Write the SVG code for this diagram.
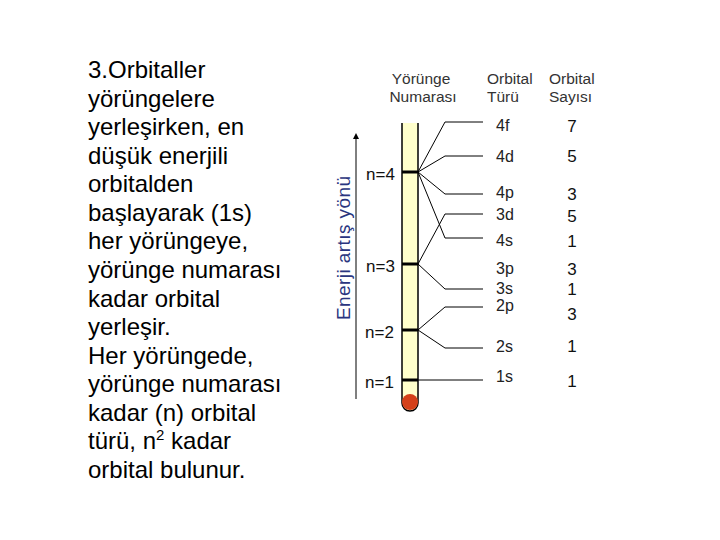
<svg xmlns="http://www.w3.org/2000/svg" width="720" height="540" viewBox="0 0 720 540">
<defs>
<style>
text{font-family:"Liberation Sans",Arial,sans-serif}
.body{font-size:24px;fill:#000}
.hdr{font-size:15.5px;fill:#333}
.lvl{font-size:17px;fill:#111}
.orb{font-size:16px;fill:#222}
.num{font-size:17px;fill:#111;text-anchor:middle}
.axis{font-size:19px;fill:#2a3580}
.con line,.con polyline{stroke:#000;stroke-width:1;fill:none}
.tick{stroke:#000;stroke-width:3}
</style>
<marker id="ah" viewBox="0 0 6 6" refX="3" refY="3" markerWidth="6" markerHeight="6" orient="auto">
<path d="M0,0 L6,3 L0,6 z" fill="#000"/>
</marker>
</defs>
<rect width="720" height="540" fill="#fff"/>

<g id="explanation" class="body">
<text x="88" y="78">3.Orbitaller</text>
<text x="88" y="106.6">yörüngelere</text>
<text x="88" y="135.1">yerleşirken, en</text>
<text x="88" y="163.7">düşük enerjili</text>
<text x="88" y="192.3">orbitalden</text>
<text x="88" y="220.9">başlayarak (1s)</text>
<text x="88" y="249.4">her yörüngeye,</text>
<text x="88" y="278">yörünge numarası</text>
<text x="88" y="306.6">kadar orbital</text>
<text x="88" y="335.1">yerleşir.</text>
<text x="88" y="363.7">Her yörüngede,</text>
<text x="88" y="392.3">yörünge numarası</text>
<text x="88" y="420.9">kadar (n) orbital</text>
<text x="88" y="449.4">türü, n<tspan font-size="15" dy="-9">2</tspan><tspan dy="9"> kadar</tspan></text>
<text x="88" y="478">orbital bulunur.</text>
</g>

<g id="headers" class="hdr">
<text x="421" y="84" text-anchor="middle">Yörünge</text>
<text x="423" y="102" text-anchor="middle">Numarası</text>
<text x="487" y="84">Orbital</text>
<text x="487" y="102">Türü</text>
<text x="549" y="84">Orbital</text>
<text x="549" y="102">Sayısı</text>
</g>

<g id="energy-axis">
<line x1="356" y1="399" x2="356" y2="136" stroke="#000" stroke-width="1" marker-end="url(#ah)"/>
<text class="axis" transform="translate(350,320) rotate(-90)" textLength="144" lengthAdjust="spacing">Enerji artış yönü</text>
</g>

<g id="bar">
<path d="M402,123 V403 A8,8 0 0 0 418,403 V123" fill="#FFFFCC" stroke="#000" stroke-width="1.5"/>
<circle cx="410" cy="402" r="8" fill="#D4401A"/>
</g>

<g id="n4"><line class="tick" x1="402" y1="172" x2="418" y2="172"/><text class="lvl" x="366" y="180">n=4</text></g>
<g id="n3"><line class="tick" x1="402" y1="264" x2="418" y2="264"/><text class="lvl" x="366" y="272">n=3</text></g>
<g id="n2"><line class="tick" x1="402" y1="330" x2="418" y2="330"/><text class="lvl" x="365" y="338">n=2</text></g>
<g id="n1"><line class="tick" x1="402" y1="380" x2="418" y2="380"/><text class="lvl" x="365" y="388">n=1</text></g>

<g id="connectors" class="con">
<polyline points="418,172 445,122 483,122"/>
<polyline points="418,172 445,156 483,156"/>
<polyline points="418,172 445,194 483,194"/>
<polyline points="418,172 445,238 483,238"/>
<polyline points="418,264 445,214 483,214"/>
<polyline points="418,264 445,289 483,289"/>
<polyline points="418,330 445,307 483,307"/>
<polyline points="418,330 445,348 483,348"/>
<line x1="418" y1="380" x2="483" y2="380"/>
</g>

<g id="orb-4f"><text class="orb" x="496" y="131">4f</text><text class="num" x="572" y="132">7</text></g>
<g id="orb-4d"><text class="orb" x="496" y="162">4d</text><text class="num" x="572" y="162">5</text></g>
<g id="orb-4p"><text class="orb" x="496" y="198">4p</text><text class="num" x="572" y="200">3</text></g>
<g id="orb-3d"><text class="orb" x="496" y="220">3d</text><text class="num" x="572" y="222">5</text></g>
<g id="orb-4s"><text class="orb" x="496" y="246">4s</text><text class="num" x="572" y="247">1</text></g>
<g id="orb-3p"><text class="orb" x="496" y="274">3p</text><text class="num" x="572" y="275">3</text></g>
<g id="orb-3s"><text class="orb" x="496" y="294">3s</text><text class="num" x="572" y="295">1</text></g>
<g id="orb-2p"><text class="orb" x="496" y="311">2p</text><text class="num" x="572" y="320">3</text></g>
<g id="orb-2s"><text class="orb" x="496" y="352">2s</text><text class="num" x="572" y="352">1</text></g>
<g id="orb-1s"><text class="orb" x="496" y="382">1s</text><text class="num" x="572" y="387">1</text></g>
</svg>
